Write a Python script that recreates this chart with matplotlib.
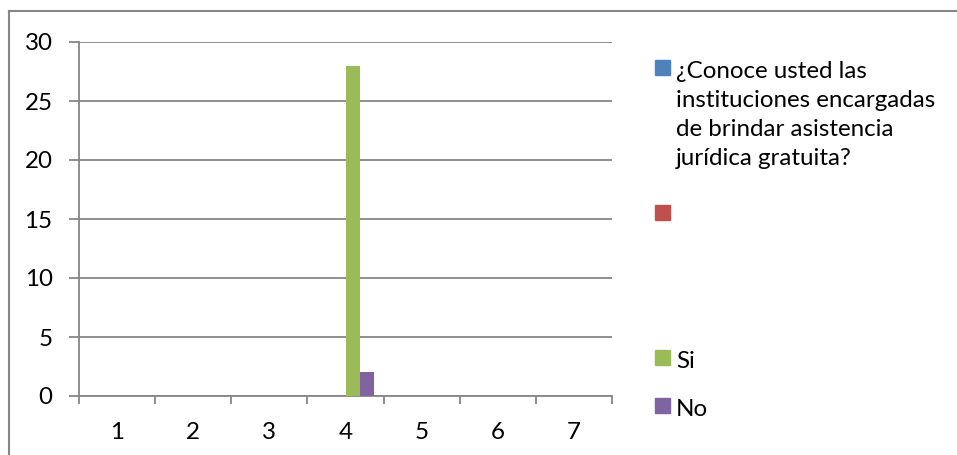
import matplotlib
matplotlib.use("Agg")
import matplotlib.pyplot as plt
from matplotlib.lines import Line2D
from matplotlib.patches import Rectangle
import numpy as np

plt.rcParams['font.family'] = ['Lato', 'DejaVu Sans']

categories = [1, 2, 3, 4, 5, 6, 7]
series_names = ["¿Conoce usted las\ninstituciones encargadas\nde brindar asistencia\njurídica gratuita?", "", "Si", "No"]
series_values = [
    [0, 0, 0, 0, 0, 0, 0],
    [0, 0, 0, 0, 0, 0, 0],
    [0, 0, 0, 28, 0, 0, 0],
    [0, 0, 0, 2, 0, 0, 0],
]
series_colors = ["#4F81BD", "#C0504D", "#9BBB59", "#8064A2"]
y_ticks = [0, 5, 10, 15, 20, 25, 30]

W, H = 957, 455
fig = plt.figure(figsize=(W / 100, H / 100), dpi=100)
ax = fig.add_axes([79 / W, 1 - 396 / H, (612 - 79) / W, (396 - 42) / H])

grey = "#868686"
fs = 17.4
x = np.arange(len(categories))
n = len(series_values)
bw = 0.184
for i, (vals, col) in enumerate(zip(series_values, series_colors)):
    offs = (i - (n - 1) / 2) * bw
    ax.bar(x + offs, vals, width=bw, color=col, linewidth=0, zorder=3)

ax.set_xlim(-0.5, len(categories) - 0.5)
ax.set_ylim(0, 30)
ax.set_yticks(y_ticks)
ax.set_yticklabels([str(v) for v in y_ticks], fontsize=fs)
ax.yaxis.grid(True, color=grey, linewidth=1.3, zorder=0)

# category labels centred, tick marks on category boundaries
ax.set_xticks(x)
ax.set_xticklabels([str(c) for c in categories], fontsize=fs)
ax.tick_params(axis='x', length=0, pad=19)
ax.set_xticks(np.arange(len(categories) + 1) - 0.5, minor=True)
ax.tick_params(axis='x', which='minor', length=6, width=1.3, color=grey, direction='out')
ax.tick_params(axis='y', length=7, width=1.3, color=grey, pad=12)

for s in ['top', 'right']:
    ax.spines[s].set_visible(False)
for s in ['left', 'bottom']:
    ax.spines[s].set_color(grey)
    ax.spines[s].set_linewidth(1.3)
ax.spines['left'].set_bounds(0, 30)

# outer chart frame
fig.add_artist(Line2D([9 / W, 956 / W], [1 - 11 / H, 1 - 11 / H], color=grey, linewidth=1.5, transform=fig.transFigure))
fig.add_artist(Line2D([9 / W, 9 / W], [1 - 11 / H, 0], color=grey, linewidth=1.5, transform=fig.transFigure))

# legend entries: marker centre (px from top); text lines every 29 px
legend_y = [67.5, 212.5, 357.5, 405.5]
for name, col, ly in zip(series_names, series_colors, legend_y):
    fig.add_artist(Rectangle((655 / W, 1 - (ly + 7.5) / H), 15 / W, 15 / H, color=col, transform=fig.transFigure))
    for k, line in enumerate(name.split("\n") if name else []):
        fig.text(676 / W, 1 - (ly + 10.5 + 29 * k) / H, line, fontsize=fs, va='baseline', ha='left')

fig.savefig("out.png", dpi=100)
